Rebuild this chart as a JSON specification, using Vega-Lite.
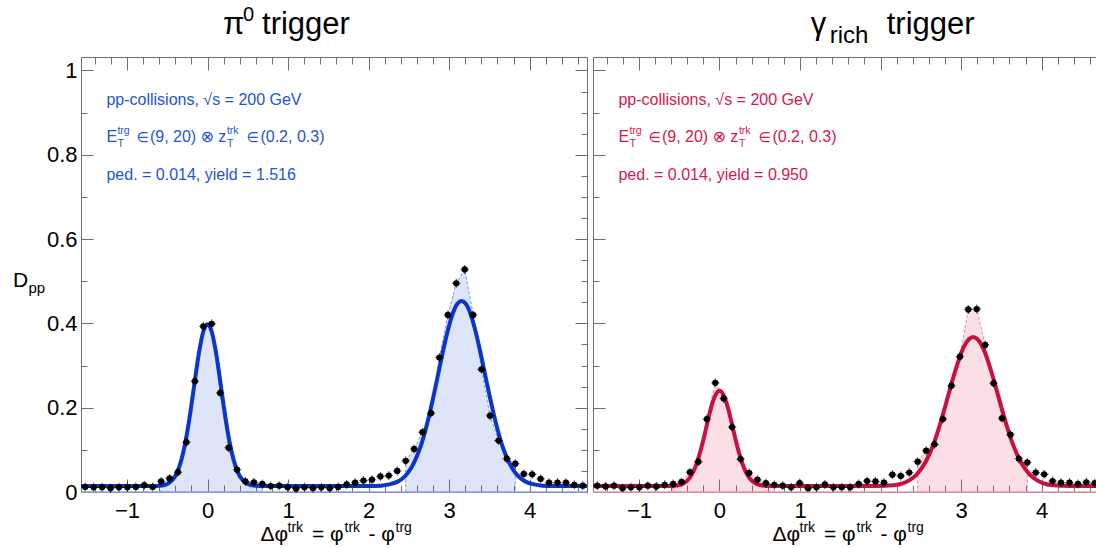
{
  "$schema": "https://vega.github.io/schema/vega-lite/v6.json",
  "autosize": {"type": "pad"},
  "padding": {"left": 12, "top": 5, "right": 0, "bottom": 2},
  "background": "white",
  "bounds": "flush",
  "spacing": 6,
  "config": {
    "view": {"stroke": null},
    "text": {"font": "Liberation Sans, DejaVu Sans", "align": "left", "baseline": "alphabetic"},
    "axis": {
      "domainColor": "#6f6f6f", "domainWidth": 1, "tickColor": "#6f6f6f", "tickWidth": 1,
      "labelFont": "Liberation Sans", "labelFontSize": 22, "labelColor": "#000000",
      "grid": false, "labelOverlap": false, "labelFlush": false
    }
  },
  "datasets": {
    "pi0_pts": [
      {"dphi": -1.518, "D": 0.012}, {"dphi": -1.414, "D": 0.011}, {"dphi": -1.309, "D": 0.011}, {"dphi": -1.204, "D": 0.009},
      {"dphi": -1.1, "D": 0.011}, {"dphi": -0.995, "D": 0.011}, {"dphi": -0.89, "D": 0.012}, {"dphi": -0.785, "D": 0.016},
      {"dphi": -0.681, "D": 0.012}, {"dphi": -0.576, "D": 0.025}, {"dphi": -0.471, "D": 0.032}, {"dphi": -0.367, "D": 0.047},
      {"dphi": -0.262, "D": 0.118}, {"dphi": -0.157, "D": 0.263}, {"dphi": -0.052, "D": 0.393}, {"dphi": 0.052, "D": 0.399},
      {"dphi": 0.157, "D": 0.235}, {"dphi": 0.262, "D": 0.105}, {"dphi": 0.367, "D": 0.053}, {"dphi": 0.471, "D": 0.025},
      {"dphi": 0.576, "D": 0.023}, {"dphi": 0.681, "D": 0.019}, {"dphi": 0.785, "D": 0.014}, {"dphi": 0.89, "D": 0.015},
      {"dphi": 0.995, "D": 0.011}, {"dphi": 1.1, "D": 0.008}, {"dphi": 1.204, "D": 0.011}, {"dphi": 1.309, "D": 0.009},
      {"dphi": 1.414, "D": 0.011}, {"dphi": 1.518, "D": 0.009}, {"dphi": 1.623, "D": 0.012}, {"dphi": 1.728, "D": 0.018},
      {"dphi": 1.833, "D": 0.022}, {"dphi": 1.937, "D": 0.027}, {"dphi": 2.042, "D": 0.029}, {"dphi": 2.147, "D": 0.037},
      {"dphi": 2.251, "D": 0.039}, {"dphi": 2.356, "D": 0.05}, {"dphi": 2.461, "D": 0.074}, {"dphi": 2.566, "D": 0.102},
      {"dphi": 2.67, "D": 0.142}, {"dphi": 2.775, "D": 0.187}, {"dphi": 2.88, "D": 0.319}, {"dphi": 2.985, "D": 0.42},
      {"dphi": 3.089, "D": 0.495}, {"dphi": 3.194, "D": 0.528}, {"dphi": 3.299, "D": 0.42}, {"dphi": 3.403, "D": 0.291},
      {"dphi": 3.508, "D": 0.181}, {"dphi": 3.613, "D": 0.122}, {"dphi": 3.717, "D": 0.079}, {"dphi": 3.822, "D": 0.067},
      {"dphi": 3.927, "D": 0.043}, {"dphi": 4.032, "D": 0.042}, {"dphi": 4.136, "D": 0.031}, {"dphi": 4.241, "D": 0.022},
      {"dphi": 4.346, "D": 0.022}, {"dphi": 4.451, "D": 0.022}, {"dphi": 4.555, "D": 0.017}, {"dphi": 4.66, "D": 0.015}
    ],
    "pi0_fit": [
      {"dphi": -1.571, "D": 0.014}, {"dphi": -0.7, "D": 0.014}, {"dphi": -0.6, "D": 0.0148}, {"dphi": -0.55, "D": 0.016},
      {"dphi": -0.5, "D": 0.019}, {"dphi": -0.45, "D": 0.026}, {"dphi": -0.4, "D": 0.038}, {"dphi": -0.35, "D": 0.06},
      {"dphi": -0.3, "D": 0.095}, {"dphi": -0.25, "D": 0.144}, {"dphi": -0.2, "D": 0.206}, {"dphi": -0.15, "D": 0.274},
      {"dphi": -0.1, "D": 0.337}, {"dphi": -0.05, "D": 0.382}, {"dphi": 0, "D": 0.398}, {"dphi": 0.05, "D": 0.382},
      {"dphi": 0.1, "D": 0.337}, {"dphi": 0.15, "D": 0.274}, {"dphi": 0.2, "D": 0.206}, {"dphi": 0.25, "D": 0.144},
      {"dphi": 0.3, "D": 0.095}, {"dphi": 0.35, "D": 0.06}, {"dphi": 0.4, "D": 0.038}, {"dphi": 0.45, "D": 0.026},
      {"dphi": 0.5, "D": 0.019}, {"dphi": 0.55, "D": 0.016}, {"dphi": 0.6, "D": 0.0148}, {"dphi": 0.7, "D": 0.014},
      {"dphi": 1.955, "D": 0.014}, {"dphi": 2.055, "D": 0.0144}, {"dphi": 2.155, "D": 0.015}, {"dphi": 2.255, "D": 0.018},
      {"dphi": 2.355, "D": 0.024}, {"dphi": 2.455, "D": 0.038}, {"dphi": 2.505, "D": 0.05}, {"dphi": 2.555, "D": 0.066},
      {"dphi": 2.605, "D": 0.087}, {"dphi": 2.655, "D": 0.113}, {"dphi": 2.705, "D": 0.146}, {"dphi": 2.755, "D": 0.184},
      {"dphi": 2.805, "D": 0.226}, {"dphi": 2.855, "D": 0.271}, {"dphi": 2.905, "D": 0.317}, {"dphi": 2.955, "D": 0.36},
      {"dphi": 3.005, "D": 0.398}, {"dphi": 3.055, "D": 0.428}, {"dphi": 3.105, "D": 0.447}, {"dphi": 3.155, "D": 0.453},
      {"dphi": 3.205, "D": 0.447}, {"dphi": 3.255, "D": 0.428}, {"dphi": 3.305, "D": 0.398}, {"dphi": 3.355, "D": 0.36},
      {"dphi": 3.405, "D": 0.317}, {"dphi": 3.455, "D": 0.271}, {"dphi": 3.505, "D": 0.226}, {"dphi": 3.555, "D": 0.184},
      {"dphi": 3.605, "D": 0.146}, {"dphi": 3.655, "D": 0.113}, {"dphi": 3.705, "D": 0.087}, {"dphi": 3.755, "D": 0.066},
      {"dphi": 3.805, "D": 0.05}, {"dphi": 3.855, "D": 0.038}, {"dphi": 3.955, "D": 0.024}, {"dphi": 4.055, "D": 0.018},
      {"dphi": 4.155, "D": 0.015}, {"dphi": 4.255, "D": 0.0144}, {"dphi": 4.355, "D": 0.014}, {"dphi": 4.712, "D": 0.014}
    ],
    "gam_pts": [
      {"dphi": -1.518, "D": 0.015}, {"dphi": -1.414, "D": 0.013}, {"dphi": -1.309, "D": 0.015}, {"dphi": -1.204, "D": 0.009},
      {"dphi": -1.1, "D": 0.011}, {"dphi": -0.995, "D": 0.011}, {"dphi": -0.89, "D": 0.015}, {"dphi": -0.785, "D": 0.013},
      {"dphi": -0.681, "D": 0.017}, {"dphi": -0.576, "D": 0.019}, {"dphi": -0.471, "D": 0.024}, {"dphi": -0.367, "D": 0.047},
      {"dphi": -0.262, "D": 0.072}, {"dphi": -0.157, "D": 0.173}, {"dphi": -0.052, "D": 0.259}, {"dphi": 0.052, "D": 0.222},
      {"dphi": 0.157, "D": 0.154}, {"dphi": 0.262, "D": 0.078}, {"dphi": 0.367, "D": 0.045}, {"dphi": 0.471, "D": 0.029},
      {"dphi": 0.576, "D": 0.021}, {"dphi": 0.681, "D": 0.017}, {"dphi": 0.785, "D": 0.015}, {"dphi": 0.89, "D": 0.011},
      {"dphi": 0.995, "D": 0.021}, {"dphi": 1.1, "D": 0.009}, {"dphi": 1.204, "D": 0.011}, {"dphi": 1.309, "D": 0.018},
      {"dphi": 1.414, "D": 0.011}, {"dphi": 1.518, "D": 0.011}, {"dphi": 1.623, "D": 0.011}, {"dphi": 1.728, "D": 0.019},
      {"dphi": 1.833, "D": 0.026}, {"dphi": 1.937, "D": 0.025}, {"dphi": 2.042, "D": 0.022}, {"dphi": 2.147, "D": 0.041},
      {"dphi": 2.251, "D": 0.038}, {"dphi": 2.356, "D": 0.046}, {"dphi": 2.461, "D": 0.072}, {"dphi": 2.566, "D": 0.098},
      {"dphi": 2.67, "D": 0.113}, {"dphi": 2.775, "D": 0.173}, {"dphi": 2.88, "D": 0.252}, {"dphi": 2.985, "D": 0.321},
      {"dphi": 3.089, "D": 0.433}, {"dphi": 3.194, "D": 0.434}, {"dphi": 3.299, "D": 0.349}, {"dphi": 3.403, "D": 0.258},
      {"dphi": 3.508, "D": 0.175}, {"dphi": 3.613, "D": 0.136}, {"dphi": 3.717, "D": 0.079}, {"dphi": 3.822, "D": 0.07},
      {"dphi": 3.927, "D": 0.046}, {"dphi": 4.032, "D": 0.042}, {"dphi": 4.136, "D": 0.026}, {"dphi": 4.241, "D": 0.022},
      {"dphi": 4.346, "D": 0.022}, {"dphi": 4.451, "D": 0.019}, {"dphi": 4.555, "D": 0.023}, {"dphi": 4.66, "D": 0.021}
    ],
    "gam_fit": [
      {"dphi": -1.571, "D": 0.014}, {"dphi": -0.7, "D": 0.014}, {"dphi": -0.6, "D": 0.0144}, {"dphi": -0.5, "D": 0.0166},
      {"dphi": -0.45, "D": 0.02}, {"dphi": -0.4, "D": 0.027}, {"dphi": -0.35, "D": 0.039}, {"dphi": -0.3, "D": 0.059},
      {"dphi": -0.25, "D": 0.088}, {"dphi": -0.2, "D": 0.124}, {"dphi": -0.15, "D": 0.165}, {"dphi": -0.1, "D": 0.203},
      {"dphi": -0.05, "D": 0.23}, {"dphi": 0, "D": 0.24}, {"dphi": 0.05, "D": 0.23}, {"dphi": 0.1, "D": 0.203},
      {"dphi": 0.15, "D": 0.165}, {"dphi": 0.2, "D": 0.124}, {"dphi": 0.25, "D": 0.088}, {"dphi": 0.3, "D": 0.059},
      {"dphi": 0.35, "D": 0.039}, {"dphi": 0.4, "D": 0.027}, {"dphi": 0.45, "D": 0.02}, {"dphi": 0.5, "D": 0.0166},
      {"dphi": 0.6, "D": 0.0144}, {"dphi": 0.7, "D": 0.014}, {"dphi": 1.85, "D": 0.014}, {"dphi": 2.05, "D": 0.0147},
      {"dphi": 2.15, "D": 0.016}, {"dphi": 2.25, "D": 0.019}, {"dphi": 2.35, "D": 0.027}, {"dphi": 2.45, "D": 0.042},
      {"dphi": 2.55, "D": 0.068}, {"dphi": 2.6, "D": 0.087}, {"dphi": 2.65, "D": 0.11}, {"dphi": 2.7, "D": 0.137},
      {"dphi": 2.75, "D": 0.168}, {"dphi": 2.8, "D": 0.201}, {"dphi": 2.85, "D": 0.236}, {"dphi": 2.9, "D": 0.27},
      {"dphi": 2.95, "D": 0.301}, {"dphi": 3.0, "D": 0.329}, {"dphi": 3.05, "D": 0.35}, {"dphi": 3.1, "D": 0.363},
      {"dphi": 3.15, "D": 0.368}, {"dphi": 3.2, "D": 0.363}, {"dphi": 3.25, "D": 0.35}, {"dphi": 3.3, "D": 0.329},
      {"dphi": 3.35, "D": 0.301}, {"dphi": 3.4, "D": 0.27}, {"dphi": 3.45, "D": 0.236}, {"dphi": 3.5, "D": 0.201},
      {"dphi": 3.55, "D": 0.168}, {"dphi": 3.6, "D": 0.137}, {"dphi": 3.65, "D": 0.11}, {"dphi": 3.7, "D": 0.087},
      {"dphi": 3.75, "D": 0.068}, {"dphi": 3.85, "D": 0.042}, {"dphi": 3.95, "D": 0.027}, {"dphi": 4.05, "D": 0.019},
      {"dphi": 4.15, "D": 0.016}, {"dphi": 4.25, "D": 0.0147}, {"dphi": 4.45, "D": 0.014}, {"dphi": 4.712, "D": 0.014}
    ]
  },
  "hconcat": [
    {
      "width": 506,
      "height": 435,
      "layer": [
        {
          "layer": [
            {
              "data": {"name": "pi0_pts"},
              "transform": [{"filter": "datum.dphi > -0.6 && datum.dphi < 0.7"}],
              "mark": {"type": "area", "fill": "#3f66dd", "fillOpacity": 0.17, "stroke": "#7d97e6", "strokeWidth": 1, "strokeDash": [3, 2]},
              "encoding": {
                "x": {"field": "dphi", "type": "quantitative"},
                "y": {"field": "D", "type": "quantitative", "stack": null}
              }
            },
            {
              "data": {"name": "pi0_pts"},
              "transform": [{"filter": "datum.dphi > 2.4 && datum.dphi < 3.9"}],
              "mark": {"type": "area", "fill": "#3f66dd", "fillOpacity": 0.17, "stroke": "#7d97e6", "strokeWidth": 1, "strokeDash": [3, 2]},
              "encoding": {
                "x": {"field": "dphi", "type": "quantitative"},
                "y": {"field": "D", "type": "quantitative", "stack": null}
              }
            },
            {
              "data": {"values": [{}]},
              "mark": {"type": "rule", "color": "#8da4ea", "strokeWidth": 1.5},
              "encoding": {"y": {"datum": 0}}
            },
            {
              "data": {"name": "pi0_fit"},
              "mark": {"type": "line", "color": "#0b36c9", "strokeWidth": 4, "interpolate": "monotone", "clip": true},
              "encoding": {
                "x": {"field": "dphi", "type": "quantitative"},
                "y": {"field": "D", "type": "quantitative"}
              }
            },
            {
              "data": {"name": "pi0_pts"},
              "mark": {"type": "tick", "orient": "horizontal", "size": 8.4, "thickness": 1, "color": "#000000"},
              "encoding": {
                "x": {"field": "dphi", "type": "quantitative"},
                "y": {"field": "D", "type": "quantitative"}
              }
            },
            {
              "data": {"name": "pi0_pts"},
              "mark": {"type": "tick", "orient": "vertical", "size": 9, "thickness": 1, "color": "#000000"},
              "encoding": {
                "x": {"field": "dphi", "type": "quantitative"},
                "y": {"field": "D", "type": "quantitative"}
              }
            },
            {
              "data": {"name": "pi0_pts"},
              "mark": {"type": "circle", "size": 40, "color": "#000000", "opacity": 1},
              "encoding": {
                "x": {
                  "field": "dphi", "type": "quantitative",
                  "scale": {"domain": [-1.5708, 4.7124], "nice": false, "zero": false},
                  "axis": {
                    "orient": "bottom", "title": null, "labelOverlap": false,
                    "values": [-1, 0, 1, 2, 3, 4],
                    "format": "d",
                    "tickSize": -13,
                    "labelPadding": 21
                  }
                },
                "y": {
                  "field": "D", "type": "quantitative",
                  "scale": {"domain": [0, 1.032], "nice": false, "zero": false},
                  "axis": {
                    "orient": "left", "title": null, "labelOverlap": false,
                    "values": [0, 0.05, 0.1, 0.15, 0.2, 0.25, 0.3, 0.35, 0.4, 0.45, 0.5, 0.55, 0.6, 0.65, 0.7, 0.75, 0.8, 0.85, 0.9, 0.95, 1],
                    "labelExpr": "abs(datum.value*5 - round(datum.value*5)) < 0.01 ? format(datum.value, '~g') : ''",
                    "tickSize": {"condition": {"test": "abs(datum.value*5 - round(datum.value*5)) < 0.01", "value": -12}, "value": -6},
                    "labelPadding": 16
                  }
                }
              }
            },
            {
              "data": {"values": [{}]},
              "layer": [
                {"mark": {"type": "text", "text": "π", "fontSize": 31, "fill": "#000000"}, "encoding": {"x": {"datum": 0.193}, "y": {"datum": 1.0865}}},
                {"mark": {"type": "text", "text": "0", "fontSize": 20, "dx": 20, "dy": -13, "fill": "#000000"}, "encoding": {"x": {"datum": 0.193}, "y": {"datum": 1.0865}}},
                {"mark": {"type": "text", "text": "trigger", "fontSize": 31, "dx": 39, "fill": "#000000"}, "encoding": {"x": {"datum": 0.193}, "y": {"datum": 1.0865}}},

                {"mark": {"type": "text", "text": "D", "fontSize": 21, "fill": "#000000"}, "encoding": {"x": {"datum": -2.416}, "y": {"datum": 0.487}}},
                {"mark": {"type": "text", "text": "pp", "fontSize": 15, "dx": 15.5, "dy": 6, "fill": "#000000"}, "encoding": {"x": {"datum": -2.416}, "y": {"datum": 0.487}}},

                {"mark": {"type": "text", "text": "Δφ", "fontSize": 21, "fill": "#000000"}, "encoding": {"x": {"datum": 0.658}, "y": {"datum": -0.1173}}},
                {"mark": {"type": "text", "text": "trk", "fontSize": 14, "dx": 27, "dy": -9, "fill": "#000000"}, "encoding": {"x": {"datum": 0.658}, "y": {"datum": -0.1173}}},
                {"mark": {"type": "text", "text": "= φ", "fontSize": 21, "dx": 51.5, "fill": "#000000"}, "encoding": {"x": {"datum": 0.658}, "y": {"datum": -0.1173}}},
                {"mark": {"type": "text", "text": "trk", "fontSize": 14, "dx": 84, "dy": -9, "fill": "#000000"}, "encoding": {"x": {"datum": 0.658}, "y": {"datum": -0.1173}}},
                {"mark": {"type": "text", "text": "- φ", "fontSize": 21, "dx": 108, "fill": "#000000"}, "encoding": {"x": {"datum": 0.658}, "y": {"datum": -0.1173}}},
                {"mark": {"type": "text", "text": "trg", "fontSize": 14, "dx": 135, "dy": -9, "fill": "#000000"}, "encoding": {"x": {"datum": 0.658}, "y": {"datum": -0.1173}}},

                {"mark": {"type": "text", "text": "pp-collisions, √s = 200 GeV", "fontSize": 16, "fill": "#2453d6"}, "encoding": {"x": {"datum": -1.255}, "y": {"datum": 0.918}}},
                {"mark": {"type": "text", "text": "E", "fontSize": 16, "fill": "#2453d6"}, "encoding": {"x": {"datum": -1.255}, "y": {"datum": 0.83}}},
                {"mark": {"type": "text", "text": "T", "fontSize": 10.5, "dx": 11, "dy": 5, "fill": "#2453d6"}, "encoding": {"x": {"datum": -1.255}, "y": {"datum": 0.83}}},
                {"mark": {"type": "text", "text": "trg", "fontSize": 10.5, "dx": 11, "dy": -8, "fill": "#2453d6"}, "encoding": {"x": {"datum": -1.255}, "y": {"datum": 0.83}}},
                {"mark": {"type": "text", "text": "∈", "fontSize": 14, "dx": 30, "fill": "#2453d6"}, "encoding": {"x": {"datum": -1.255}, "y": {"datum": 0.83}}},
                {"mark": {"type": "text", "text": "(9, 20)", "fontSize": 16, "dx": 43.5, "fill": "#2453d6"}, "encoding": {"x": {"datum": -1.255}, "y": {"datum": 0.83}}},
                {"mark": {"type": "text", "text": "⊗", "fontSize": 16, "dx": 94, "fill": "#2453d6"}, "encoding": {"x": {"datum": -1.255}, "y": {"datum": 0.83}}},
                {"mark": {"type": "text", "text": "z", "fontSize": 16, "dx": 111.7, "fill": "#2453d6"}, "encoding": {"x": {"datum": -1.255}, "y": {"datum": 0.83}}},
                {"mark": {"type": "text", "text": "trk", "fontSize": 10.5, "dx": 120.5, "dy": -8, "fill": "#2453d6"}, "encoding": {"x": {"datum": -1.255}, "y": {"datum": 0.83}}},
                {"mark": {"type": "text", "text": "T", "fontSize": 10.5, "dx": 120.5, "dy": 5, "fill": "#2453d6"}, "encoding": {"x": {"datum": -1.255}, "y": {"datum": 0.83}}},
                {"mark": {"type": "text", "text": "∈", "fontSize": 14, "dx": 140, "fill": "#2453d6"}, "encoding": {"x": {"datum": -1.255}, "y": {"datum": 0.83}}},
                {"mark": {"type": "text", "text": "(0.2, 0.3)", "fontSize": 16, "dx": 154, "fill": "#2453d6"}, "encoding": {"x": {"datum": -1.255}, "y": {"datum": 0.83}}},
                {"mark": {"type": "text", "text": "ped. = 0.014, yield = 1.516", "fontSize": 16, "fill": "#2453d6"}, "encoding": {"x": {"datum": -1.255}, "y": {"datum": 0.74}}}
              ]
            }
          ]
        },
        {
          "data": {"name": "pi0_pts"},
          "mark": {"type": "point", "opacity": 0},
          "encoding": {
            "x": {
              "field": "dphi", "type": "quantitative",
              "axis": {
                "orient": "top", "title": null, "labels": false,
                "values": [-1.4, -1.2, -1, -0.8, -0.6, -0.4, -0.2, 0, 0.2, 0.4, 0.6, 0.8, 1, 1.2, 1.4, 1.6, 1.8, 2, 2.2, 2.4, 2.6, 2.8, 3, 3.2, 3.4, 3.6, 3.8, 4, 4.2, 4.4, 4.6],
                "tickSize": {"condition": {"test": "abs(datum.value - round(datum.value)) < 0.01", "value": -13}, "value": -7}
              }
            },
            "y": {
              "field": "D", "type": "quantitative",
              "axis": {
                "orient": "right", "title": null, "labels": false,
                "values": [0, 0.05, 0.1, 0.15, 0.2, 0.25, 0.3, 0.35, 0.4, 0.45, 0.5, 0.55, 0.6, 0.65, 0.7, 0.75, 0.8, 0.85, 0.9, 0.95, 1],
                "tickSize": {"condition": {"test": "abs(datum.value*5 - round(datum.value*5)) < 0.01", "value": -12}, "value": -6}
              }
            }
          }
        },
        {
          "data": {"name": "pi0_pts"},
          "mark": {"type": "point", "opacity": 0},
          "encoding": {
            "x": {
              "field": "dphi", "type": "quantitative",
              "axis": {
                "orient": "bottom", "title": null, "labels": false, "domain": false, "offset": 0,
                "values": [-1.4, -1.2, -0.8, -0.6, -0.4, -0.2, 0.2, 0.4, 0.6, 0.8, 1.2, 1.4, 1.6, 1.8, 2.2, 2.4, 2.6, 2.8, 3.2, 3.4, 3.6, 3.8, 4.2, 4.4, 4.6],
                "tickSize": -7
              }
            },
            "y": {"field": "D", "type": "quantitative", "axis": null}
          }
        }
      ],
      "resolve": {"axis": {"x": "independent", "y": "independent"}}
    },
    {
      "width": 503,
      "height": 435,
      "layer": [
        {
          "layer": [
            {
              "data": {"name": "gam_pts"},
              "transform": [{"filter": "datum.dphi > -0.6 && datum.dphi < 0.7"}],
              "mark": {"type": "area", "fill": "#e0456a", "fillOpacity": 0.17, "stroke": "#ea8aa0", "strokeWidth": 1, "strokeDash": [3, 2]},
              "encoding": {
                "x": {"field": "dphi", "type": "quantitative"},
                "y": {"field": "D", "type": "quantitative", "stack": null}
              }
            },
            {
              "data": {"name": "gam_pts"},
              "transform": [{"filter": "datum.dphi > 2.4 && datum.dphi < 3.9"}],
              "mark": {"type": "area", "fill": "#e0456a", "fillOpacity": 0.17, "stroke": "#ea8aa0", "strokeWidth": 1, "strokeDash": [3, 2]},
              "encoding": {
                "x": {"field": "dphi", "type": "quantitative"},
                "y": {"field": "D", "type": "quantitative", "stack": null}
              }
            },
            {
              "data": {"values": [{}]},
              "mark": {"type": "rule", "color": "#eb9ab0", "strokeWidth": 1.5},
              "encoding": {"y": {"datum": 0}}
            },
            {
              "data": {"name": "gam_fit"},
              "mark": {"type": "line", "color": "#c9103f", "strokeWidth": 4, "interpolate": "monotone", "clip": true},
              "encoding": {
                "x": {"field": "dphi", "type": "quantitative"},
                "y": {"field": "D", "type": "quantitative"}
              }
            },
            {
              "data": {"name": "gam_pts"},
              "mark": {"type": "tick", "orient": "horizontal", "size": 8.4, "thickness": 1, "color": "#000000", "clip": true},
              "encoding": {
                "x": {"field": "dphi", "type": "quantitative"},
                "y": {"field": "D", "type": "quantitative"}
              }
            },
            {
              "data": {"name": "gam_pts"},
              "mark": {"type": "tick", "orient": "vertical", "size": 9, "thickness": 1, "color": "#000000", "clip": true},
              "encoding": {
                "x": {"field": "dphi", "type": "quantitative"},
                "y": {"field": "D", "type": "quantitative"}
              }
            },
            {
              "data": {"name": "gam_pts"},
              "mark": {"type": "circle", "size": 40, "color": "#000000", "opacity": 1, "clip": true},
              "encoding": {
                "x": {
                  "field": "dphi", "type": "quantitative",
                  "scale": {"domain": [-1.5708, 4.6752], "nice": false, "zero": false},
                  "axis": {
                    "orient": "bottom", "title": null, "labelOverlap": false,
                    "values": [-1, 0, 1, 2, 3, 4],
                    "format": "d",
                    "tickSize": -13,
                    "labelPadding": 21
                  }
                },
                "y": {
                  "field": "D", "type": "quantitative",
                  "scale": {"domain": [0, 1.032], "nice": false, "zero": false},
                  "axis": {
                    "orient": "left", "title": null, "labels": false,
                    "values": [0, 0.05, 0.1, 0.15, 0.2, 0.25, 0.3, 0.35, 0.4, 0.45, 0.5, 0.55, 0.6, 0.65, 0.7, 0.75, 0.8, 0.85, 0.9, 0.95, 1],
                    "tickSize": {"condition": {"test": "abs(datum.value*5 - round(datum.value*5)) < 0.01", "value": -12}, "value": -6}
                  }
                }
              }
            },
            {
              "data": {"values": [{}]},
              "layer": [
                {"mark": {"type": "text", "text": "γ", "fontSize": 31, "fill": "#000000"}, "encoding": {"x": {"datum": 1.133}, "y": {"datum": 1.0865}}},
                {"mark": {"type": "text", "text": "rich", "fontSize": 24, "dx": 19, "dy": 9, "fill": "#000000"}, "encoding": {"x": {"datum": 1.133}, "y": {"datum": 1.0865}}},
                {"mark": {"type": "text", "text": "trigger", "fontSize": 31, "dx": 76, "fill": "#000000"}, "encoding": {"x": {"datum": 1.133}, "y": {"datum": 1.0865}}},

                {"mark": {"type": "text", "text": "Δφ", "fontSize": 21, "fill": "#000000"}, "encoding": {"x": {"datum": 0.658}, "y": {"datum": -0.1173}}},
                {"mark": {"type": "text", "text": "trk", "fontSize": 14, "dx": 27, "dy": -9, "fill": "#000000"}, "encoding": {"x": {"datum": 0.658}, "y": {"datum": -0.1173}}},
                {"mark": {"type": "text", "text": "= φ", "fontSize": 21, "dx": 51.5, "fill": "#000000"}, "encoding": {"x": {"datum": 0.658}, "y": {"datum": -0.1173}}},
                {"mark": {"type": "text", "text": "trk", "fontSize": 14, "dx": 84, "dy": -9, "fill": "#000000"}, "encoding": {"x": {"datum": 0.658}, "y": {"datum": -0.1173}}},
                {"mark": {"type": "text", "text": "- φ", "fontSize": 21, "dx": 108, "fill": "#000000"}, "encoding": {"x": {"datum": 0.658}, "y": {"datum": -0.1173}}},
                {"mark": {"type": "text", "text": "trg", "fontSize": 14, "dx": 135, "dy": -9, "fill": "#000000"}, "encoding": {"x": {"datum": 0.658}, "y": {"datum": -0.1173}}},

                {"mark": {"type": "text", "text": "pp-collisions, √s = 200 GeV", "fontSize": 16, "fill": "#d4194f"}, "encoding": {"x": {"datum": -1.255}, "y": {"datum": 0.918}}},
                {"mark": {"type": "text", "text": "E", "fontSize": 16, "fill": "#d4194f"}, "encoding": {"x": {"datum": -1.255}, "y": {"datum": 0.83}}},
                {"mark": {"type": "text", "text": "T", "fontSize": 10.5, "dx": 11, "dy": 5, "fill": "#d4194f"}, "encoding": {"x": {"datum": -1.255}, "y": {"datum": 0.83}}},
                {"mark": {"type": "text", "text": "trg", "fontSize": 10.5, "dx": 11, "dy": -8, "fill": "#d4194f"}, "encoding": {"x": {"datum": -1.255}, "y": {"datum": 0.83}}},
                {"mark": {"type": "text", "text": "∈", "fontSize": 14, "dx": 30, "fill": "#d4194f"}, "encoding": {"x": {"datum": -1.255}, "y": {"datum": 0.83}}},
                {"mark": {"type": "text", "text": "(9, 20)", "fontSize": 16, "dx": 43.5, "fill": "#d4194f"}, "encoding": {"x": {"datum": -1.255}, "y": {"datum": 0.83}}},
                {"mark": {"type": "text", "text": "⊗", "fontSize": 16, "dx": 94, "fill": "#d4194f"}, "encoding": {"x": {"datum": -1.255}, "y": {"datum": 0.83}}},
                {"mark": {"type": "text", "text": "z", "fontSize": 16, "dx": 111.7, "fill": "#d4194f"}, "encoding": {"x": {"datum": -1.255}, "y": {"datum": 0.83}}},
                {"mark": {"type": "text", "text": "trk", "fontSize": 10.5, "dx": 120.5, "dy": -8, "fill": "#d4194f"}, "encoding": {"x": {"datum": -1.255}, "y": {"datum": 0.83}}},
                {"mark": {"type": "text", "text": "T", "fontSize": 10.5, "dx": 120.5, "dy": 5, "fill": "#d4194f"}, "encoding": {"x": {"datum": -1.255}, "y": {"datum": 0.83}}},
                {"mark": {"type": "text", "text": "∈", "fontSize": 14, "dx": 140, "fill": "#d4194f"}, "encoding": {"x": {"datum": -1.255}, "y": {"datum": 0.83}}},
                {"mark": {"type": "text", "text": "(0.2, 0.3)", "fontSize": 16, "dx": 154, "fill": "#d4194f"}, "encoding": {"x": {"datum": -1.255}, "y": {"datum": 0.83}}},
                {"mark": {"type": "text", "text": "ped. = 0.014, yield = 0.950", "fontSize": 16, "fill": "#d4194f"}, "encoding": {"x": {"datum": -1.255}, "y": {"datum": 0.74}}}
              ]
            }
          ]
        },
        {
          "data": {"name": "gam_pts"},
          "mark": {"type": "point", "opacity": 0},
          "encoding": {
            "x": {
              "field": "dphi", "type": "quantitative",
              "axis": {
                "orient": "top", "title": null, "labels": false,
                "values": [-1.4, -1.2, -1, -0.8, -0.6, -0.4, -0.2, 0, 0.2, 0.4, 0.6, 0.8, 1, 1.2, 1.4, 1.6, 1.8, 2, 2.2, 2.4, 2.6, 2.8, 3, 3.2, 3.4, 3.6, 3.8, 4, 4.2, 4.4, 4.6],
                "tickSize": {"condition": {"test": "abs(datum.value - round(datum.value)) < 0.01", "value": -13}, "value": -7}
              }
            },
            "y": {"field": "D", "type": "quantitative", "axis": null}
          }
        },
        {
          "data": {"name": "gam_pts"},
          "mark": {"type": "point", "opacity": 0},
          "encoding": {
            "x": {
              "field": "dphi", "type": "quantitative",
              "axis": {
                "orient": "bottom", "title": null, "labels": false, "domain": false, "offset": 0,
                "values": [-1.4, -1.2, -0.8, -0.6, -0.4, -0.2, 0.2, 0.4, 0.6, 0.8, 1.2, 1.4, 1.6, 1.8, 2.2, 2.4, 2.6, 2.8, 3.2, 3.4, 3.6, 3.8, 4.2, 4.4, 4.6],
                "tickSize": -7
              }
            },
            "y": {"field": "D", "type": "quantitative", "axis": null}
          }
        }
      ],
      "resolve": {"axis": {"x": "independent", "y": "independent"}}
    }
  ]
}
